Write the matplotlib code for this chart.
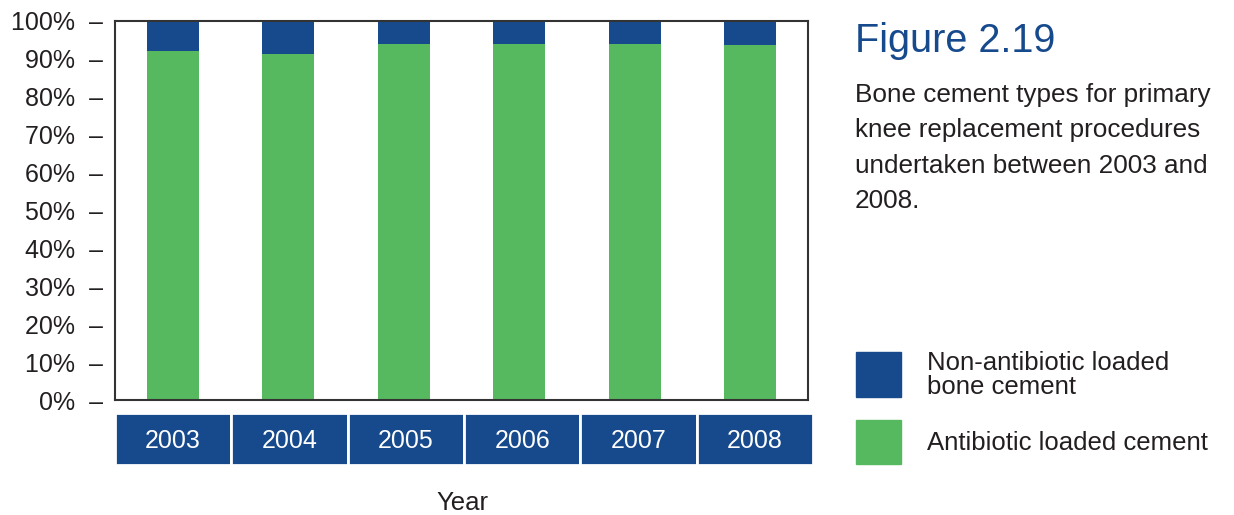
import matplotlib.pyplot as plt
from matplotlib.patches import Rectangle

plt.rcParams['font.family'] = ['Liberation Sans', 'DejaVu Sans']

years = ['2003', '2004', '2005', '2006', '2007', '2008']
antibiotic = [92.1, 91.4, 94.0, 94.0, 94.0, 93.7]
non_antibiotic = [100 - v for v in antibiotic]
ytick_vals = list(range(0, 101, 10))
ytick_labels = [f'{v}%  \u2013' for v in ytick_vals]

BLUE = '#174a8c'
GREEN = '#57b95f'
TEXT = '#231f20'

W, H = 1234, 515
fig = plt.figure(figsize=(W / 100, H / 100), dpi=100)

# main plotting box
ax = fig.add_axes([115 / W, (H - 400) / H, 693 / W, 379 / H])
x = range(len(years))
ax.bar(x, antibiotic, width=0.45, color=GREEN)
ax.bar(x, non_antibiotic, width=0.45, bottom=antibiotic, color=BLUE)
ax.set_xlim(-0.5, len(years) - 0.5)
ax.set_ylim(0, 100)
ax.set_xticks([])
ax.set_yticks(ytick_vals)
ax.set_yticklabels(ytick_labels, fontsize=18, color=TEXT)
ax.tick_params(axis='y', length=0, pad=8.6)
for s in ax.spines.values():
    s.set_color('#333333')
    s.set_linewidth(1.5)

# blue year strip under the plot
ax2 = fig.add_axes([115 / W, (H - 465) / H, 698 / W, 52 / H])
ax2.bar(x, [1] * len(years), width=1.0, color=BLUE, edgecolor='white', linewidth=2)
for i, yr in enumerate(years):
    ax2.text(i, 0.47, yr, ha='center', va='center', color='white', fontsize=18,
             family=['Liberation Sans Narrow', 'Liberation Sans'])
ax2.set_xlim(-0.5, len(years) - 0.5)
ax2.set_ylim(0, 1)
ax2.axis('off')

fig.text(462 / W, 1 - 510 / H, 'Year', ha='center', va='baseline', fontsize=18.5, color=TEXT)

# caption block
fig.text(855 / W, 1 - 52 / H, 'Figure 2.19', ha='left', va='baseline', fontsize=28.5, color=BLUE)
desc = ['Bone cement types for primary',
        'knee replacement procedures',
        'undertaken between 2003 and',
        '2008.']
for i, line in enumerate(desc):
    fig.text(855 / W, 1 - (102 + 35.5 * i) / H, line, ha='left', va='baseline',
             fontsize=18.8, color=TEXT)

# legend
fig.patches.append(Rectangle((856 / W, 1 - 397 / H), 45 / W, 45 / H,
                             transform=fig.transFigure, color=BLUE))
fig.patches.append(Rectangle((856 / W, 1 - 464 / H), 45 / W, 44 / H,
                             transform=fig.transFigure, color=GREEN))
fig.text(927 / W, 1 - 370 / H, 'Non-antibiotic loaded', ha='left', va='baseline',
         fontsize=18.5, color=TEXT)
fig.text(927 / W, 1 - 394 / H, 'bone cement', ha='left', va='baseline',
         fontsize=18.5, color=TEXT)
fig.text(927 / W, 1 - 450 / H, 'Antibiotic loaded cement', ha='left', va='baseline',
         fontsize=18.5, color=TEXT)

fig.savefig('out.png', dpi=100)
